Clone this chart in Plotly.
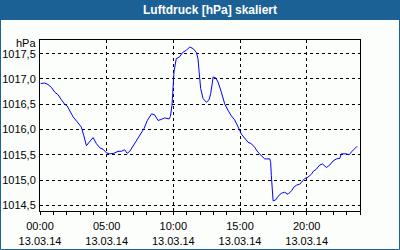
import plotly.graph_objects as go

day = "2014-03-13"
times = ["00:03","00:21","00:36","00:52","01:06","01:21","01:36","01:51","02:02","02:14",
         "02:29","02:44","02:56","03:06","03:17","03:29","03:41","03:59","04:14","04:29",
         "04:44","04:59","05:14","05:32","05:51","06:06","06:21","06:32","06:44","06:59",
         "07:14","07:29","07:48","08:03","08:22","08:36","08:51","09:06","09:21","09:41",
         "09:47","09:54","09:58","10:03","10:13","10:29","10:41","10:59","11:14","11:29",
         "11:44","11:51","11:56","12:03","12:14","12:29","12:41","12:48","12:56","12:59",
         "13:11","13:21","13:36","13:51","14:06","14:21","14:36","14:51","14:56","15:06",
         "15:21","15:36","15:51","16:06","16:21","16:36","16:51","17:14","17:18","17:21",
         "17:26","17:29","17:41","17:51","18:06","18:21","18:36","18:52","19:02","19:14",
         "19:29","19:41","19:51","20:06","20:22","20:29","20:44","20:59","21:11","21:29",
         "21:44","21:59","22:14","22:29","22:36","22:59","23:11","23:22","23:36","23:47"]
pressure = [1016.91,1016.92,1016.89,1016.83,1016.74,1016.69,1016.59,1016.50,1016.47,1016.37,
            1016.25,1016.17,1016.11,1016.05,1015.88,1015.68,1015.75,1015.84,1015.72,1015.64,
            1015.61,1015.54,1015.52,1015.53,1015.57,1015.57,1015.60,1015.53,1015.57,1015.68,
            1015.78,1015.88,1016.02,1016.18,1016.31,1016.29,1016.18,1016.20,1016.23,1016.21,
            1016.26,1016.48,1016.81,1017.14,1017.40,1017.44,1017.52,1017.57,1017.63,1017.60,
            1017.52,1017.40,1017.14,1016.81,1016.61,1016.54,1016.59,1016.71,1016.94,1017.04,
            1017.02,1016.94,1016.74,1016.51,1016.38,1016.27,1016.19,1016.07,1016.01,1015.91,
            1015.82,1015.75,1015.72,1015.65,1015.55,1015.48,1015.42,1015.42,1015.35,1015.09,
            1014.79,1014.59,1014.61,1014.68,1014.74,1014.76,1014.72,1014.79,1014.86,1014.90,
            1014.92,1014.97,1015.03,1015.06,1015.12,1015.17,1015.22,1015.30,1015.32,1015.25,
            1015.30,1015.38,1015.42,1015.43,1015.52,1015.52,1015.50,1015.56,1015.63,1015.67]

title_text = "Luftdruck [hPa] skaliert"
unit_text = "hPa"
x_range = ["2014-03-13 00:00", "2014-03-14 00:00"]
y_range = [1014.39, 1017.77]

W, H = 400, 250
ML, MR, MT, MB = 40, 40, 40, 39
PW, PH = W - ML - MR, H - MT - MB

def px(xp):
    return (xp - ML) / PW

def py(yp):
    return (H - MB - yp) / PH

BLUE = "#1c6196"
BG = "#fcfefc"
FONT = "Liberation Sans"
FS = 11

fig = go.Figure()
fig.add_trace(go.Scatter(
    x=[f"{day} {t}" for t in times], y=pressure, mode="lines",
    line=dict(color="#0000ff", width=1), hoverinfo="skip", showlegend=False))

fig.update_layout(
    width=W, height=H, margin=dict(l=ML, r=MR, t=MT, b=MB, autoexpand=False),
    paper_bgcolor=BG, plot_bgcolor=BG, separators=",.",
    font=dict(family=FONT, size=FS, color="#000000"),
    xaxis=dict(
        type="date", range=x_range, tick0="2014-03-13 00:00", dtick=5 * 3600000,
        tickformat="%H:%M<br>%d.%m.%y", showgrid=True, gridcolor="#000000",
        griddash="3px,3px", gridwidth=1, showline=True, linecolor="#000000",
        linewidth=1, mirror=True, ticks="outside", ticklen=3, tickcolor="#000000",
        zeroline=False, tickfont=dict(family=FONT, size=FS), automargin=False,
        ticklabelstandoff=2,
        minor=dict(dtick=3600000, ticks="outside", ticklen=3, tickcolor="#000000",
                   showgrid=False),
    ),
    yaxis=dict(
        range=y_range, tick0=1014.5, dtick=0.5, tickformat=".1f",
        showgrid=True, gridcolor="#000000", griddash="3px,3px", gridwidth=1,
        showline=True, linecolor="#000000", linewidth=1, mirror=True,
        ticks="", zeroline=False, tickfont=dict(family=FONT, size=FS),
        automargin=False, ticklabelstandoff=1,
    ),
    shapes=[
        dict(type="rect", xref="paper", yref="paper",
             x0=px(0), x1=px(400), y0=py(20), y1=py(0),
             fillcolor=BLUE, line=dict(width=0), layer="below"),
        dict(type="rect", xref="paper", yref="paper",
             x0=px(0.5), x1=px(399.5), y0=py(249.5), y1=py(0.5),
             line=dict(color=BLUE, width=1), fillcolor="rgba(0,0,0,0)"),
    ],
    annotations=[
        dict(text=f"<b>{title_text}</b>", xref="paper", yref="paper",
             x=px(210), y=py(10), xanchor="center", yanchor="middle",
             showarrow=False, font=dict(family="Liberation Sans", size=12, color="#ffffff")),
        dict(text=unit_text, xref="paper", yref="paper",
             x=px(38), y=py(43), xanchor="right", yanchor="middle",
             showarrow=False, font=dict(family=FONT, size=FS, color="#000000")),
    ],
)

fig.write_html("out.html")
